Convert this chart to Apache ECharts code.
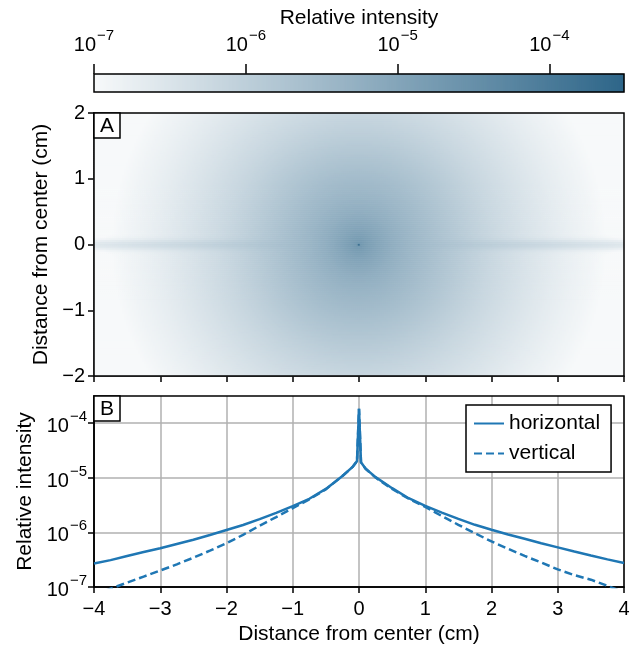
<!DOCTYPE html>
<html><head><meta charset="utf-8">
<script src="https://cdn.jsdelivr.net/npm/echarts@6/dist/echarts.min.js"></script>
<style>html,body{margin:0;padding:0;background:#fff}#c{width:641px;height:648px}</style>
</head><body><div id="c"></div>
<script>
// ---- data ----
const profileX   = [-4, -3.75, -3.5, -3.25, -3, -2.75, -2.5, -2.25, -2, -1.75, -1.5, -1.25, -1, -0.75, -0.5, -0.25, -0.1, -0.03,
                    0, 0.03, 0.1, 0.25, 0.5, 0.75, 1, 1.25, 1.5, 1.75, 2, 2.25, 2.5, 2.75, 3, 3.25, 3.5, 3.75, 4];
const horizontal = [2.7e-7, 3.1e-7, 3.7e-7, 4.35e-7, 5.1e-7, 6.1e-7, 7.3e-7, 8.9e-7, 1.1e-6, 1.36e-6, 1.74e-6, 2.26e-6, 3.0e-6, 4.1e-6, 6.2e-6, 1.07e-5, 1.55e-5, 2.0e-5,
                    1.8e-4, 1.9e-5, 1.45e-5, 1.02e-5, 6.4e-6, 4.2e-6, 3.05e-6, 2.29e-6, 1.76e-6, 1.37e-6, 1.11e-6, 9.1e-7, 7.6e-7, 6.3e-7, 5.3e-7, 4.45e-7, 3.76e-7, 3.2e-7, 2.75e-7];
const vertical   = [7.2e-8, 9.3e-8, 1.2e-7, 1.55e-7, 2.0e-7, 2.6e-7, 3.43e-7, 4.62e-7, 6.3e-7, 9.0e-7, 1.32e-6, 1.9e-6, 2.75e-6, 4.0e-6, 6.1e-6, 1.07e-5, 1.55e-5, 2.0e-5,
                    1.8e-4, 1.9e-5, 1.45e-5, 1.0e-5, 6.2e-6, 4.1e-6, 2.9e-6, 1.98e-6, 1.37e-6, 9.6e-7, 6.8e-7, 5.0e-7, 3.7e-7, 2.8e-7, 2.1e-7, 1.65e-7, 1.36e-7, 1.05e-7, 8e-8];
const seriesNames = ['horizontal', 'vertical'];
const xTicks = [-4, -3, -2, -1, 0, 1, 2, 3, 4];
const yTicksA = [-2, -1, 0, 1, 2];
const decadeTicks = [1e-7, 1e-6, 1e-5, 1e-4];
const intensityMin = 1e-7;
const intensityMax = 3.1e-4;
const streakSigma = 0.05;   // cm, width of the horizontal streak in panel A

// ---- helpers ----
const logMin = Math.log10(intensityMin), logMax = Math.log10(intensityMax);
function logInterp(arr, x) {
  if (x <= profileX[0]) return Math.log10(arr[0]);
  const n = profileX.length;
  if (x >= profileX[n - 1]) return Math.log10(arr[n - 1]);
  for (let k = 0; k < n - 1; k++) {
    if (x >= profileX[k] && x <= profileX[k + 1]) {
      const t = (x - profileX[k]) / (profileX[k + 1] - profileX[k]);
      return Math.log10(arr[k]) * (1 - t) + Math.log10(arr[k + 1]) * t;
    }
  }
}
const minus = v => (v < 0 ? '\u2212' + (-v) : String(v));
const pow10Label = v => '{b|10}{s|\u2212' + Math.round(-Math.log10(v)) + '}';

// ---- panel A image built from the two profiles ----
const nx = 265, ny = 131;
const xCells = [], yCells = [], heat = [];
for (let i = 0; i < nx; i++) xCells.push(String(i));
for (let j = 0; j < ny; j++) yCells.push(String(j));
for (let j = 0; j < ny; j++) {
  const y = -2 + (j + 0.5) * 4 / ny;
  for (let i = 0; i < nx; i++) {
    const x = -4 + (i + 0.5) * 8 / nx;
    const r = Math.sqrt(x * x + y * y);
    const bg = Math.pow(10, (logInterp(vertical, r) + logInterp(vertical, -r)) / 2);
    const streak = Math.max(0, Math.pow(10, logInterp(horizontal, x)) - Math.pow(10, logInterp(vertical, Math.abs(x))));
    const v = bg + streak * Math.exp(-0.5 * (y / streakSigma) * (y / streakSigma));
    heat.push([i, j, Math.min(logMax, Math.max(logMin, Math.log10(v)))]);
  }
}
// colour bar cells
const nCb = 265, cbCells = [], cbData = [];
for (let k = 0; k < nCb; k++) {
  cbCells.push(String(k));
  cbData.push([k, 0, logMin + (k + 0.5) / nCb * (logMax - logMin)]);
}

const FONT = "'Liberation Sans', Arial, sans-serif";
const TICK = 20, NAME = 21, SUP = 15;
const richLog = { b: { fontSize: TICK, fontFamily: FONT, color: '#000', verticalAlign: 'bottom' },
                  s: { fontSize: SUP, fontFamily: FONT, color: '#000', verticalAlign: 'bottom', padding: [0, 0, 12, 1] } };
const blackLine = { show: true, onZero: false, lineStyle: { color: '#000', width: 1.5 } };
const LINE_W = 2.5;

const chart = echarts.init(document.getElementById('c'), null, { renderer: 'canvas' });
chart.setOption({
  animation: false,
  textStyle: { fontFamily: FONT },
  grid: [
    { left: 94, top: 74, width: 530, height: 18, show: true, borderColor: '#000', borderWidth: 1.5, z: 3 },
    { left: 94, top: 113, width: 530, height: 263, show: true, borderColor: '#000', borderWidth: 1.5, z: 3 },
    { left: 94, top: 396, width: 530, height: 191, show: true, borderColor: '#000', borderWidth: 1.5, z: 3 }
  ],
  title: [
    { text: 'A', left: 94, top: 113, padding: [3, 6, 1, 6], borderColor: '#000', borderWidth: 1.5, backgroundColor: '#fff',
      textStyle: { fontSize: NAME, fontWeight: 'normal', color: '#000', fontFamily: FONT } },
    { text: 'B', left: 94, top: 396, padding: [3, 6, 1, 6], borderColor: '#000', borderWidth: 1.5, backgroundColor: '#fff',
      textStyle: { fontSize: NAME, fontWeight: 'normal', color: '#000', fontFamily: FONT } }
  ],
  legend: {
    left: 466, top: 405, orient: 'vertical', data: seriesNames,
    itemWidth: 30, itemHeight: 21, itemGap: 9,
    padding: [8, 11, 8, 7], borderColor: '#000', borderWidth: 1.5, backgroundColor: '#fff',
    itemStyle: { color: 'rgba(0,0,0,0)', borderColor: 'rgba(0,0,0,0)', borderWidth: 0 },
    textStyle: { fontSize: NAME, color: '#000', fontFamily: FONT }
  },
  visualMap: {
    type: 'continuous', show: false, min: logMin, max: logMax, dimension: 2, seriesIndex: [0, 1],
    inRange: { color: ['#f7f9fa', '#2e6689'] }
  },
  xAxis: [
    { gridIndex: 0, type: 'category', data: cbCells, show: false, position: 'bottom' },
    { gridIndex: 0, type: 'log', logBase: 10, min: intensityMin, max: intensityMax, position: 'top',
      axisLine: { show: false, onZero: false }, splitLine: { show: false },
      axisTick: { show: true, inside: false, length: 10, customValues: decadeTicks, lineStyle: { color: '#000', width: 1.5 } },
      axisLabel: { show: true, margin: 19, customValues: decadeTicks, formatter: pow10Label, rich: richLog },
      name: 'Relative intensity', nameLocation: 'middle', nameGap: 45, nameMoveOverlap: false,
      nameTextStyle: { fontSize: NAME, color: '#000', fontFamily: FONT } },
    { gridIndex: 1, type: 'category', data: xCells, show: false, position: 'top' },
    { gridIndex: 1, type: 'value', min: -4, max: 4, interval: 1, position: 'bottom',
      axisLine: blackLine, splitLine: { show: false },
      axisTick: { show: true, inside: false, length: 6, lineStyle: { color: '#000', width: 1.5 } },
      axisLabel: { show: false } },
    { gridIndex: 2, type: 'value', min: -4, max: 4, interval: 1, position: 'bottom',
      axisLine: blackLine,
      splitLine: { show: true, lineStyle: { color: '#b0b0b0', width: 1.5 } },
      axisTick: { show: true, inside: false, length: 6, lineStyle: { color: '#000', width: 1.5 } },
      axisLabel: { show: true, margin: 12, fontSize: TICK, color: '#000', fontFamily: FONT, formatter: minus },
      name: 'Distance from center (cm)', nameLocation: 'middle', nameGap: 37,
      nameTextStyle: { fontSize: NAME, color: '#000', fontFamily: FONT } }
  ],
  yAxis: [
    { gridIndex: 0, type: 'category', data: ['cb'], show: false },
    { gridIndex: 1, type: 'category', data: yCells, show: false, position: 'right' },
    { gridIndex: 1, type: 'value', min: -2, max: 2, interval: 1, position: 'left',
      axisLine: blackLine, splitLine: { show: false },
      axisTick: { show: true, inside: false, length: 6, lineStyle: { color: '#000', width: 1.5 } },
      axisLabel: { show: true, margin: 9, fontSize: TICK, color: '#000', fontFamily: FONT, formatter: minus },
      name: 'Distance from center (cm)', nameLocation: 'middle', nameGap: 33,
      nameTextStyle: { fontSize: NAME, color: '#000', fontFamily: FONT } },
    { gridIndex: 2, type: 'log', logBase: 10, min: intensityMin, max: intensityMax, position: 'left',
      axisLine: blackLine,
      splitLine: { show: true, lineStyle: { color: '#b0b0b0', width: 1.5 } },
      axisTick: { show: true, inside: false, length: 6, customValues: decadeTicks, lineStyle: { color: '#000', width: 1.5 } },
      axisLabel: { show: true, margin: 7, customValues: decadeTicks, formatter: pow10Label, rich: richLog },
      name: 'Relative intensity', nameLocation: 'middle', nameGap: 50,
      nameTextStyle: { fontSize: NAME, color: '#000', fontFamily: FONT } }
  ],
  series: [
    { type: 'heatmap', xAxisIndex: 2, yAxisIndex: 1, data: heat, progressive: 0, emphasis: { disabled: true } },
    { type: 'heatmap', xAxisIndex: 0, yAxisIndex: 0, data: cbData, progressive: 0, emphasis: { disabled: true } },
    { type: 'line', name: seriesNames[0], xAxisIndex: 4, yAxisIndex: 3, symbol: 'none', clip: true,
      data: profileX.map((x, k) => [x, horizontal[k]]),
      lineStyle: { color: '#1f77b4', width: LINE_W }, itemStyle: { color: '#1f77b4' } },
    { type: 'line', name: seriesNames[1], xAxisIndex: 4, yAxisIndex: 3, symbol: 'none', clip: true,
      data: profileX.map((x, k) => [x, vertical[k]]),
      lineStyle: { color: '#1f77b4', width: LINE_W, type: [8, 4] }, itemStyle: { color: '#1f77b4' } }
  ]
});
</script>
</body></html>
